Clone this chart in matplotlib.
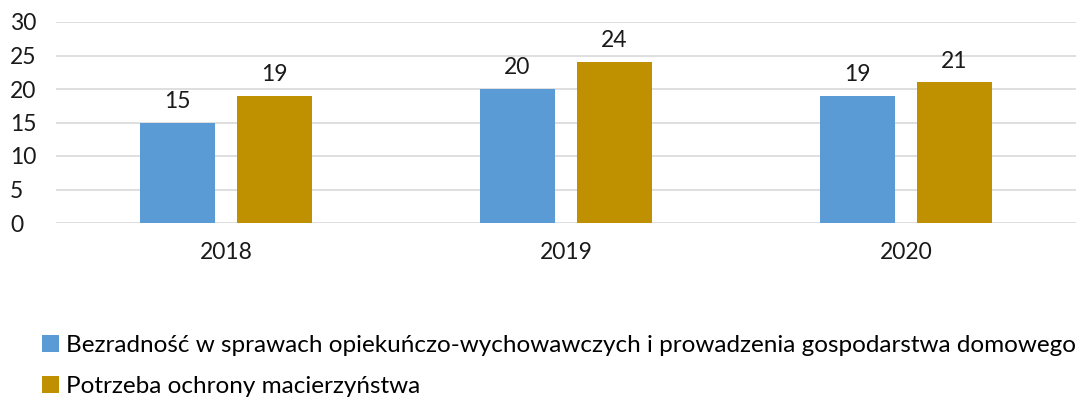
import matplotlib.pyplot as plt
import numpy as np

years = ["2018", "2019", "2020"]
series_a = [15, 20, 19]
series_b = [19, 24, 21]
label_a = "Bezradność w sprawach opiekuńczo-wychowawczych i prowadzenia gospodarstwa domowego"
label_b = "Potrzeba ochrony macierzyństwa"

plt.rcParams['font.family'] = ['Lato', 'DejaVu Sans']

fig = plt.figure(figsize=(10.83, 4.01), dpi=100)
ax = fig.add_axes([56 / 1083, 1 - 223 / 401, (1076 - 56) / 1083, (223 - 22) / 401])

x = np.arange(len(years))
w = 0.22
off = 0.143
b1 = ax.bar(x - off, series_a, w, color="#5B9BD5", label=label_a, zorder=3)
b2 = ax.bar(x + off, series_b, w, color="#BF9000", label=label_b, zorder=3)

for bars in (b1, b2):
    for r in bars:
        ax.text(r.get_x() + r.get_width() / 2, r.get_height() + 1.6, f"{r.get_height():g}",
                ha="center", va="bottom", fontsize=16.5, color="#1a1a1a")

ax.set_xlim(-0.5, 2.5)
ax.set_ylim(0, 30)
ax.set_yticks(range(0, 31, 5))
ax.set_xticks(x)
ax.set_xticklabels(years)
ax.grid(axis="y", color="#D9D9D9", linewidth=1.2, zorder=0)
for s in ax.spines.values():
    s.set_visible(False)
ax.tick_params(axis="both", length=0, labelsize=16.5, colors="#1a1a1a")
ax.tick_params(axis="x", pad=14)
ax.tick_params(axis="y", pad=33)
for t in ax.get_yticklabels():
    t.set_horizontalalignment("left")

fig.legend(handles=[b1, b2], loc="upper left", bbox_to_anchor=(32 / 1083, 1 - 325 / 401),
           frameon=False, fontsize=17.5, handlelength=0.7, handleheight=0.7,
           handletextpad=0.3, labelspacing=0.85, borderaxespad=0)

fig.savefig("out.png", dpi=100)
